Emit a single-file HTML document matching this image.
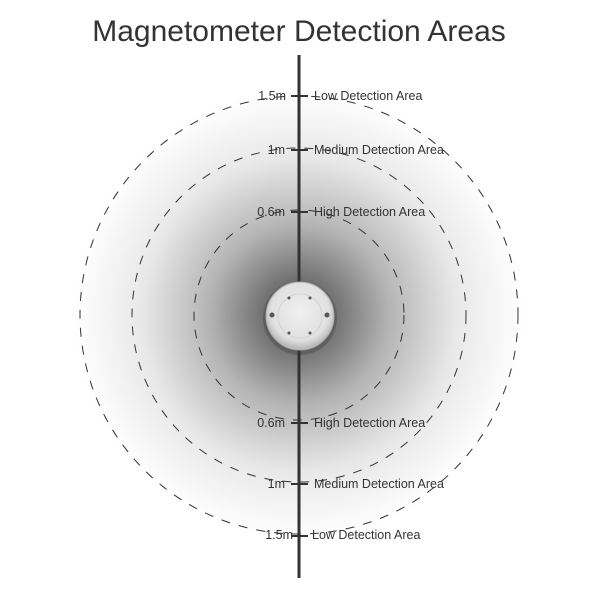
<!DOCTYPE html>
<html><head><style>
body{margin:0;background:#fff;}
svg{display:block;font-family:"Liberation Sans",sans-serif;}
</style></head><body>
<svg width="600" height="600" viewBox="0 0 600 600">
<defs>
<radialGradient id="g" cx="299" cy="315" r="225" gradientUnits="userSpaceOnUse">
<stop offset="0" stop-color="#444"/>
<stop offset="0.18" stop-color="#777"/>
<stop offset="0.4" stop-color="#b4b4b4"/>
<stop offset="0.7" stop-color="#e8e8e8"/>
<stop offset="1" stop-color="#fff"/>
</radialGradient>
<radialGradient id="d" cx="300" cy="312" r="36" gradientUnits="userSpaceOnUse">
<stop offset="0" stop-color="#f0f0f0"/>
<stop offset="0.8" stop-color="#e0e0e0"/>
<stop offset="1" stop-color="#bbb"/>
</radialGradient>
</defs>
<rect width="600" height="600" fill="#fff"/>
<circle cx="299" cy="315" r="225" fill="url(#g)"/>
<g fill="none" stroke="#333" stroke-width="1" stroke-dasharray="9,9">
<circle cx="299" cy="315" r="219"/>
<circle cx="299" cy="315" r="167"/>
<circle cx="299" cy="315" r="105"/>
</g>
<text x="299" y="41" text-anchor="middle" font-size="30" fill="#333">Magnetometer Detection Areas</text>
<line x1="299" y1="55" x2="299" y2="578" stroke="#333" stroke-width="3"/>
<circle cx="300" cy="318" r="37" fill="#333" opacity="0.3"/>
<circle cx="300" cy="316" r="34" fill="url(#d)" stroke="#aaa" stroke-width="1"/>
<circle cx="300" cy="316" r="22" fill="none" stroke="#d4d4d4" stroke-width="1"/>
<g fill="#555"><circle cx="289" cy="298" r="1.5"/><circle cx="310" cy="298" r="1.5"/><circle cx="272" cy="315" r="2.5"/><circle cx="327" cy="315" r="2.5"/><circle cx="289" cy="333" r="1.5"/><circle cx="310" cy="333" r="1.5"/></g>
<g stroke="#333" stroke-width="2">
<line x1="291" y1="96" x2="308" y2="96"/><line x1="291" y1="150" x2="308" y2="150"/><line x1="291" y1="212" x2="308" y2="212"/>
<line x1="291" y1="423" x2="308" y2="423"/><line x1="291" y1="484" x2="308" y2="484"/><line x1="291" y1="536" x2="308" y2="536"/>
</g>
<g font-size="12.5" fill="#333">
<text x="286" y="100" text-anchor="end">1.5m</text><text x="314" y="100">Low Detection Area</text>
<text x="285" y="154" text-anchor="end">1m</text><text x="314" y="154">Medium Detection Area</text>
<text x="285" y="216" text-anchor="end">0.6m</text><text x="314" y="216">High Detection Area</text>
<text x="285" y="427" text-anchor="end">0.6m</text><text x="314" y="427">High Detection Area</text>
<text x="285" y="488" text-anchor="end">1m</text><text x="314" y="488">Medium Detection Area</text>
<text x="293" y="539" text-anchor="end">1.5m</text><text x="312" y="539">Low Detection Area</text>
</g>
</svg>
</body></html>
